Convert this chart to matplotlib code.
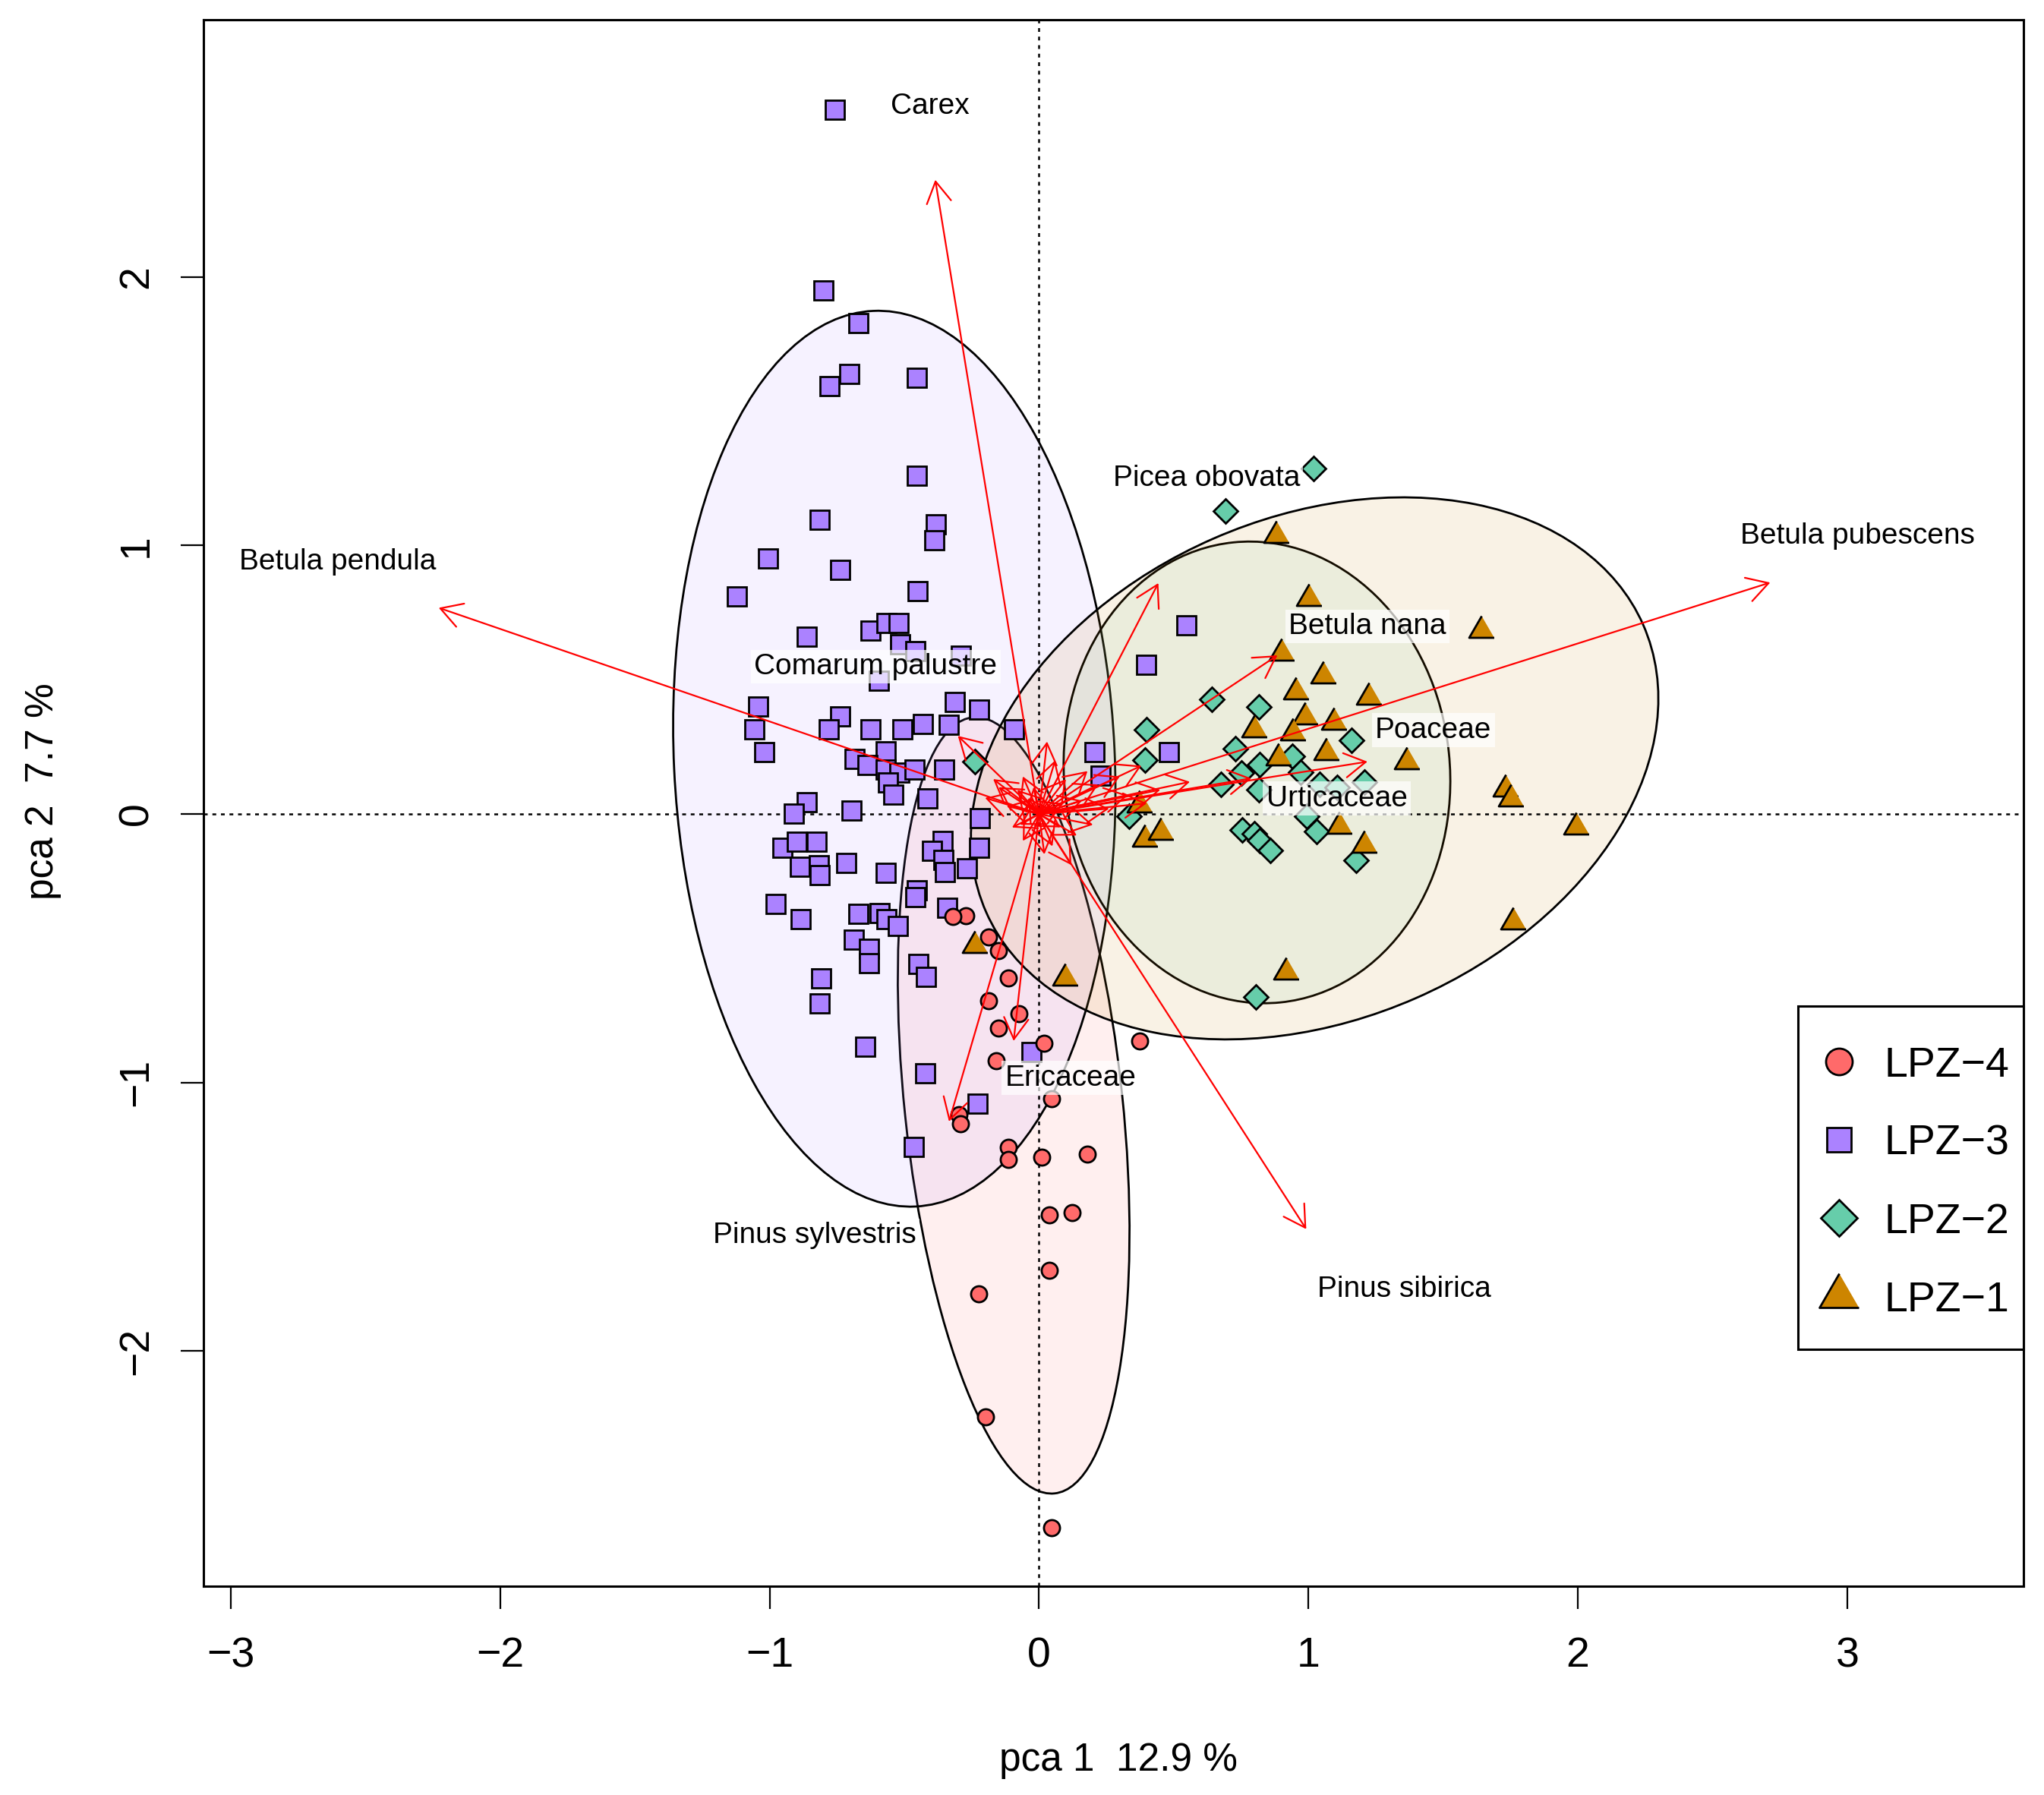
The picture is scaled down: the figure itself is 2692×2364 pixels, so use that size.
import matplotlib
matplotlib.use("Agg")
import matplotlib.pyplot as plt
from matplotlib.patches import Ellipse, FancyArrowPatch, ArrowStyle, Rectangle
from matplotlib.colors import to_rgba

plt.rcParams['font.family'] = ['Liberation Sans', 'DejaVu Sans']

# ---------------- data ----------------
groups = ["LPZ\u22124", "LPZ\u22123", "LPZ\u22122", "LPZ\u22121"]
group_colors = ["#ff6a6a", "#ab82ff", "#66cdaa", "#cd8500"]

lpz4_x = [-0.272, -0.319, -0.188, -0.150, -0.113, -0.188, -0.075, -0.150, 0.019, 0.374,
          -0.160, 0.047, -0.296, -0.291, -0.113, -0.113, 0.009, 0.178, 0.037, 0.122,
          0.037, -0.225, -0.197, 0.047]
lpz4_y = [-0.378, -0.381, -0.459, -0.508, -0.610, -0.695, -0.743, -0.798, -0.854, -0.846,
          -0.920, -1.061, -1.121, -1.153, -1.242, -1.286, -1.278, -1.267, -1.494, -1.483,
          -1.700, -1.786, -2.245, -2.658]

lpz3_x = [-0.759, -0.800, -0.673, -0.706, -0.778, -0.456, -0.456, -0.815, -0.383, -0.390,
          -1.007, -0.740, -1.124, -0.451, -0.862, -0.627, -0.568, -0.522, -0.517, -0.461,
          -0.291, -0.597, -1.045, -1.059, -1.021, -0.739, -0.783, -0.627, -0.507, -0.432,
          -0.313, -0.225, -0.336, -0.094, -0.571, -0.686, -0.637, -0.571, -0.519, -0.463,
          -0.561, -0.542, -0.354, -0.416, -0.862, -0.910, -0.697, -0.221, -0.224, -0.954,
          -0.899, -0.827, -0.890, -0.817, -0.815, -0.716, -0.571, -0.360, -0.399, -0.357,
          -0.350, -0.268, -0.456, -0.461, -0.979, -0.886, -0.672, -0.592, -0.567, -0.526,
          -0.343, -0.688, -0.631, -0.631, -0.448, -0.420, -0.811, -0.815, -0.646, -0.029,
          -0.423, -0.230, -0.467, 0.545, 0.397, 0.206, 0.482, 0.227]
lpz3_y = [2.623, 1.952, 1.830, 1.641, 1.594, 1.627, 1.262, 1.098, 1.081, 1.022,
          0.953, 0.911, 0.812, 0.831, 0.661, 0.685, 0.713, 0.713, 0.633, 0.609,
          0.590, 0.498, 0.402, 0.318, 0.233, 0.366, 0.318, 0.318, 0.318, 0.336,
          0.420, 0.390, 0.333, 0.318, 0.234, 0.207, 0.184, 0.167, 0.157, 0.167,
          0.120, 0.073, 0.167, 0.060, 0.045, 0.003, 0.014, -0.014, -0.123, -0.125,
          -0.103, -0.103, -0.195, -0.190, -0.227, -0.180, -0.217, -0.100, -0.135, -0.170,
          -0.215, -0.200, -0.284, -0.309, -0.333, -0.391, -0.371, -0.368, -0.391, -0.415,
          -0.349, -0.466, -0.499, -0.554, -0.557, -0.606, -0.611, -0.703, -0.864, -0.884,
          -0.963, -1.077, -1.239, 0.704, 0.558, 0.233, 0.233, 0.143]

lpz2_x = [1.019, 0.691, 0.642, 0.815, 0.400, 0.394, -0.239, 0.729, 1.160, 0.820,
          0.941, 0.971, 0.750, 0.674, 0.815, 1.041, 1.106, 1.208, 0.335, 0.993,
          0.755, 0.798, 0.820, 0.858, 1.030, 1.176, 0.804]
lpz2_y = [1.288, 1.128, 0.426, 0.398, 0.313, 0.200, 0.195, 0.242, 0.275, 0.185,
          0.216, 0.157, 0.152, 0.110, 0.091, 0.110, 0.100, 0.119, -0.008, -0.008,
          -0.060, -0.074, -0.098, -0.135, -0.065, -0.173, -0.682]

lpz1_x = [0.880, 1.003, 0.901, 1.057, 0.955, 1.225, 0.987, 1.095, 0.798, 0.944,
          1.068, 0.890, 1.366, 1.643, 1.733, 1.751, 1.995, 1.761, 1.209, 1.116,
          0.373, 0.394, 0.453, 0.917, 0.098, -0.237]
lpz1_y = [1.039, 0.803, 0.601, 0.516, 0.455, 0.436, 0.361, 0.342, 0.314, 0.304,
          0.229, 0.210, 0.196, 0.685, 0.093, 0.058, -0.048, -0.400, -0.116, -0.045,
          0.035, -0.092, -0.068, -0.587, -0.611, -0.488]

# group ellipses: centre, width, height, angle (degrees)
ell_cx = [-0.094, -0.537, 0.809, 1.023]
ell_cy = [-1.085, 0.206, 0.155, 0.170]
ell_w = [0.809, 1.636, 1.432, 2.663]
ell_h = [2.906, 3.339, 1.722, 1.869]
ell_ang = [6.0, 2.7, 5.8, 23.7]

# labelled loading arrows
taxa = ["Carex", "Betula pendula", "Betula pubescens", "Picea obovata", "Betula nana",
        "Poaceae", "Urticaceae", "Comarum palustre", "Ericaceae", "Pinus sylvestris",
        "Pinus sibirica"]
arrow_x = [-0.385, -2.228, 2.714, 0.443, 0.885, 1.219, 0.788, -0.301, -0.094, -0.334, 0.992]
arrow_y = [2.362, 0.768, 0.862, 0.860, 0.591, 0.195, 0.133, 0.291, -0.845, -1.145, -1.546]
label_x = [-0.404, -2.602, 3.038, 0.621, 1.218, 1.464, 1.105, -0.606, 0.117, -0.832, 1.355]
label_y = [2.636, 0.939, 1.034, 1.250, 0.699, 0.312, 0.058, 0.549, -0.983, -1.570, -1.769]

# unlabelled (short) loading arrows
small_x = [0.03, 0.38, 0.56, 0.33, -0.17, 0.12, -0.08, -0.15, 0.22, 0.16, 0.10, 0.06,
           -0.06, -0.12, -0.10, -0.06, 0.05, 0.20, 0.26, 0.14, 0.09, -0.04, 0.45, 0.30,
           0.18, -0.20, 0.08, 0.02, -0.02, 0.40, -0.07]
small_y = [0.27, 0.18, 0.12, 0.07, 0.13, -0.19, 0.09, 0.10, 0.11, 0.05, 0.13, 0.20,
           0.14, 0.03, -0.05, -0.10, -0.12, -0.04, 0.02, -0.08, 0.04, 0.06, 0.09, 0.14,
           0.16, 0.06, -0.05, -0.15, 0.10, 0.04, -0.04]

xticks = [-3, -2, -1, 0, 1, 2, 3]
yticks = [-2, -1, 0, 1, 2]
xlabel = "pca 1  12.9 %"
ylabel = "pca 2  7.7 %"

# ---------------- figure ----------------
fig = plt.figure(figsize=(13.46, 11.82), dpi=200)
ax = fig.add_axes([0.09955, 0.11612, 0.89042, 0.87289])
ax.set_xlim(-3.101, 3.654)
ax.set_ylim(-2.877, 2.958)

for cx, cy, w, h, a, col in zip(ell_cx, ell_cy, ell_w, ell_h, ell_ang, group_colors):
    ax.add_patch(Ellipse((cx, cy), w, h, angle=a, facecolor=to_rgba(col, 0.1),
                         edgecolor='black', lw=1.0, zorder=1))

ax.axhline(0, color='black', lw=0.9, ls=(0, (2, 2.5)), zorder=2)
ax.axvline(0, color='black', lw=0.9, ls=(0, (2, 2.5)), zorder=2)

tri = [(0, 1), (-0.866, -0.5), (0.866, -0.5)]
markers = ['o', 's', 'D', tri]
msizes = [7.6, 9.0, 7.9, 13.7]
leg_sizes = [12.6, 11.4, 12.0, 21.6]
xs = [lpz4_x, lpz3_x, lpz2_x, lpz1_x]
ys = [lpz4_y, lpz3_y, lpz2_y, lpz1_y]
draw_order = [1, 0, 2, 3]
for i in draw_order:
    ax.plot(xs[i], ys[i], linestyle='none', marker=markers[i], markersize=msizes[i],
            markerfacecolor=group_colors[i], markeredgecolor='black',
            markeredgewidth=1.0, zorder=3, label=groups[i])

astyle = ArrowStyle("->", head_length=10.0, head_width=5.8)
for ex, ey in list(zip(arrow_x, arrow_y)) + list(zip(small_x, small_y)):
    ax.add_patch(FancyArrowPatch((0, 0), (ex, ey), arrowstyle=astyle, mutation_scale=1,
                                 color='red', lw=0.8, shrinkA=0, shrinkB=0, zorder=4))

for name, lx, ly in zip(taxa, label_x, label_y):
    ax.text(lx, ly, name, ha='center', va='center', fontsize=14,
            zorder=5, bbox=dict(facecolor='white', alpha=0.7, edgecolor='none', pad=1.5))

# axes styling
for sp in ax.spines.values():
    sp.set_linewidth(1.1)
ax.set_xticks(xticks)
ax.set_yticks(yticks)
ax.tick_params(axis='both', direction='out', length=10.8, width=0.8, labelsize=20)
ax.tick_params(axis='x', pad=12.8)
ax.tick_params(axis='y', pad=11.5, labelrotation=90)
for lab in ax.get_yticklabels():
    lab.set_verticalalignment('center')
    lab.set_horizontalalignment('right')

ax.set_xlabel(xlabel, fontsize=18.5, va='baseline')
ax.xaxis.set_label_coords(0.5027, -0.1175)
ax.set_ylabel(ylabel, fontsize=18.5, va='baseline', rotation_mode='anchor')
ax.yaxis.set_label_coords(-0.0826, 0.5076)

# legend box (R style: square frame flush with right axis border)
leg_x0, leg_x1, leg_y0, leg_y1 = 0.8761, 1.0, 0.1514, 0.3705
leg_marker_x, leg_text_x = 0.8986, 0.9233
leg_row_y = [0.3350, 0.2851, 0.2352, 0.1853]
ax.add_patch(Rectangle((leg_x0, leg_y0), leg_x1 - leg_x0, leg_y1 - leg_y0,
                       transform=ax.transAxes, facecolor='white', edgecolor='black',
                       lw=1.1, zorder=6, clip_on=False))
for i, ry in enumerate(leg_row_y):
    ax.plot([leg_marker_x], [ry], transform=ax.transAxes, linestyle='none',
            marker=markers[i], markersize=leg_sizes[i], markerfacecolor=group_colors[i],
            markeredgecolor='black', markeredgewidth=1.0, zorder=7, clip_on=False)
    ax.text(leg_text_x, ry - 0.0096, groups[i], transform=ax.transAxes, fontsize=20,
            ha='left', va='baseline', zorder=7)

fig.savefig("out.png", dpi=200, facecolor='white')
